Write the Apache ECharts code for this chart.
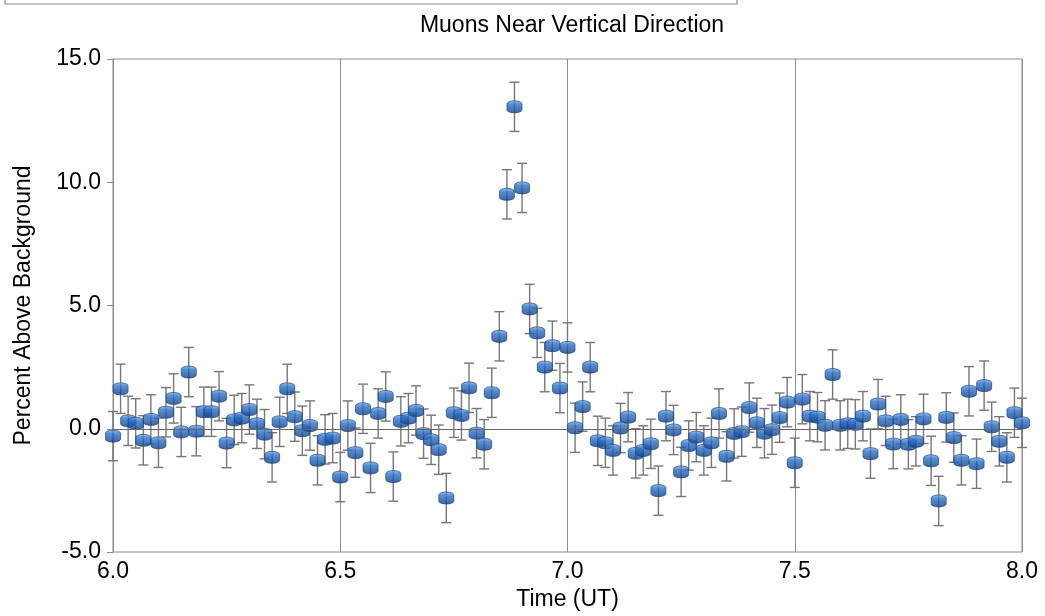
<!DOCTYPE html>
<html>
<head>
<meta charset="utf-8">
<script src="https://cdn.jsdelivr.net/npm/echarts@6/dist/echarts.min.js"></script>
<style>
html,body{margin:0;padding:0;background:#fff;}
#chart{width:1045px;height:616px;}
</style>
</head>
<body>
<div id="chart"></div>
<script>
// Time axis: one sample per minute from 6.0 UT to 8.0 UT
var startTime = 6.0;
var stepHours = 1 / 60;
// Percent above background for each minute
var values = [
  -0.30, 1.62, 0.32, 0.22, -0.47, 0.38, -0.57, 0.67, 1.23, -0.13,
  2.30, -0.10, 0.69, 0.69, 1.32, -0.58, 0.36, 0.43, 0.78, 0.20,
  -0.22, -1.16, 0.28, 1.62, 0.49, -0.08, 0.13, -1.28, -0.43, -0.38,
  -1.96, 0.13,
  -0.97, 0.81, -1.59, 0.62, 1.31, -1.94, 0.30, 0.43, 0.74, -0.20,
  -0.45, -0.85, -2.81, 0.65, 0.54, 1.66, -0.18, -0.63, 1.46, 3.75,
  9.51, 13.06, 9.77, 4.86, 3.89, 2.50, 3.37, 1.65, 3.30, 0.04,
  0.90, 2.50, -0.49, -0.57, -0.88, 0.03, 0.47, -1.00, -0.88, -0.61,
  -2.51, 0.51, -0.05, -1.75, -0.68, -0.34, -0.88, -0.57, 0.62, -1.12,
  -0.19, -0.12, 0.86, 0.24, -0.18, -0.04, 0.45, 1.08, -1.38, 1.20,
  0.51,
  0.47, 0.14, 2.20, 0.14, 0.20, 0.18, 0.51, -1.01, 1.00, 0.32,
  -0.62, 0.38, -0.63, -0.51, 0.40, -1.30, -2.93, 0.46, -0.36, -1.28,
  1.52, -1.42, 1.75, 0.08, -0.51, -1.16, 0.65, 0.24
];
// Half-length of the error bars (percent)
var errorHalf = 1.0;
var xTicks = [6.0, 6.5, 7.0, 7.5, 8.0];
var yTicks = [-5.0, 0.0, 5.0, 10.0, 15.0];

var points = values.map(function (v, i) { return [startTime + i * stepHours, v]; });
var errData = values.map(function (v, i) { return [startTime + i * stepHours, v - errorHalf, v + errorHalf]; });

var FONT = 'Liberation Sans, Arial, Helvetica, sans-serif';
var GREY = '#8c8c8c';

var chart = echarts.init(document.getElementById('chart'));
chart.setOption({
  animation: false,
  backgroundColor: '#fff',
  title: {
    text: 'Muons Near Vertical Direction',
    left: 567, top: 9, textAlign: 'center',
    textStyle: { fontFamily: FONT, fontSize: 23, fontWeight: 'normal', color: '#000' }
  },
  graphic: [{
    type: 'rect', shape: { x: 5, y: -20, width: 732, height: 24 },
    style: { fill: 'none', stroke: GREY, lineWidth: 1.2 }, silent: true
  }],
  grid: { left: 113, right: 23, top: 59, bottom: 60, show: true, borderColor: GREY, borderWidth: 1 },
  xAxis: {
    type: 'value', min: xTicks[0], max: xTicks[xTicks.length - 1], interval: 0.5,
    name: 'Time (UT)', nameLocation: 'middle', nameGap: 36,
    nameTextStyle: { fontFamily: FONT, fontSize: 23, color: '#000' },
    axisLine: { show: true, lineStyle: { color: GREY, width: 1 } },
    axisTick: { show: true, inside: false, length: 6, lineStyle: { color: GREY } },
    axisLabel: { margin: 8, fontFamily: FONT, fontSize: 23, color: '#000',
      formatter: function (v) { return v.toFixed(1); } },
    splitLine: { show: true, lineStyle: { color: GREY, width: 1 } }
  },
  yAxis: {
    type: 'value', min: yTicks[0], max: yTicks[yTicks.length - 1], interval: 5,
    name: 'Percent Above Background', nameLocation: 'middle', nameGap: 78,
    nameTextStyle: { fontFamily: FONT, fontSize: 23, color: '#000' },
    axisLine: { show: true, lineStyle: { color: GREY, width: 1 } },
    axisTick: { show: true, inside: false, length: 6, lineStyle: { color: GREY } },
    axisLabel: { margin: 12, fontFamily: FONT, fontSize: 23, color: '#000',
      formatter: function (v) { return v.toFixed(1); } },
    splitLine: { show: false }
  },
  series: [
    {
      type: 'custom',
      data: errData,
      clip: false,
      z: 2,
      silent: true,
      markLine: {
        silent: true, symbol: 'none', label: { show: false },
        lineStyle: { color: '#666', width: 1, type: 'solid' },
        data: [{ yAxis: 0 }]
      },
      renderItem: function (params, api) {
        var x = api.value(0);
        var lo = api.coord([x, api.value(1)]);
        var hi = api.coord([x, api.value(2)]);
        var cap = 5;
        var st = { stroke: '#777', lineWidth: 1.4 };
        return {
          type: 'group',
          children: [
            { type: 'line', shape: { x1: lo[0], y1: lo[1], x2: hi[0], y2: hi[1] }, style: st },
            { type: 'line', shape: { x1: lo[0] - cap, y1: lo[1], x2: lo[0] + cap, y2: lo[1] }, style: st },
            { type: 'line', shape: { x1: hi[0] - cap, y1: hi[1], x2: hi[0] + cap, y2: hi[1] }, style: st }
          ]
        };
      }
    },
    {
      type: 'scatter',
      data: points,
      z: 3,
      clip: false,
      symbol: 'path://M0,3 A7,3 0 0,1 14,3 L14,9 A7,3 0 0,1 0,9 Z',
      symbolSize: [15, 12],
      itemStyle: {
        color: new echarts.graphic.LinearGradient(0, 0, 0, 1, [
          { offset: 0, color: '#7fb4ea' },
          { offset: 0.3, color: '#2f72c8' },
          { offset: 0.6, color: '#1f5db0' },
          { offset: 1, color: '#143f80' }
        ]),
        borderColor: '#143f80',
        borderWidth: 0.8
      }
    }
  ]
});
</script>
</body>
</html>
